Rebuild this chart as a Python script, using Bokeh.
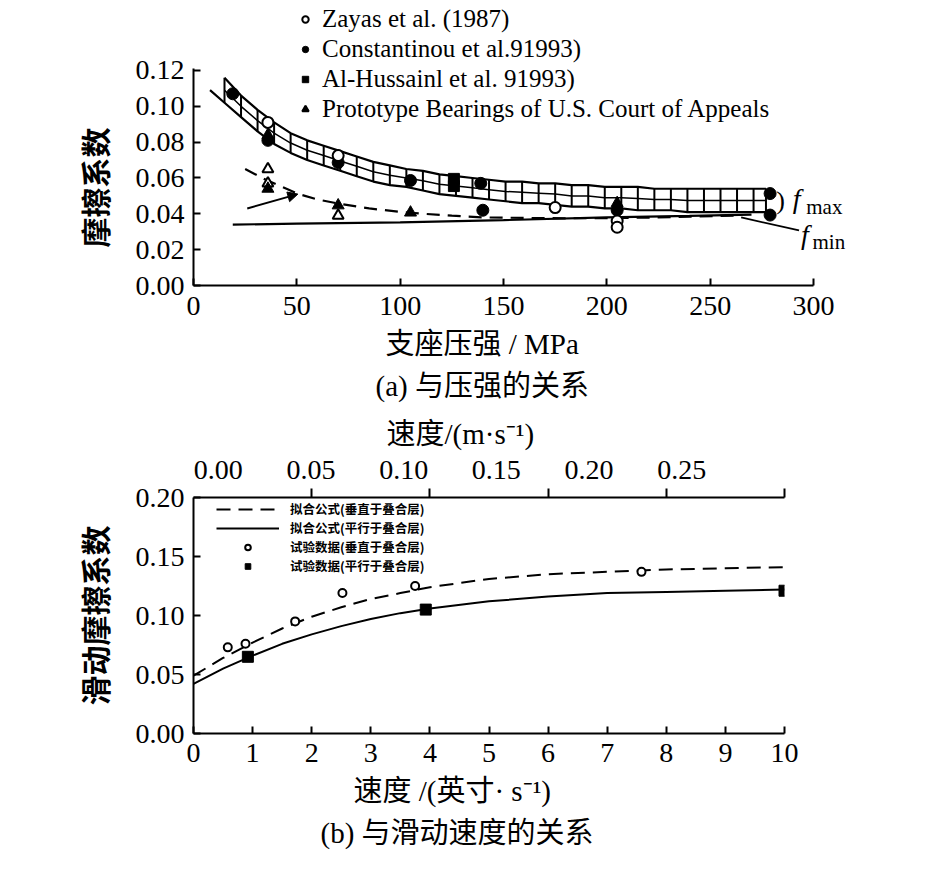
import numpy as np
from bokeh.plotting import figure
from bokeh.models import (Range1d, LinearAxis, FixedTicker, NumeralTickFormatter,
                          Legend, LegendItem, Label, Arrow, NormalHead, Title)
from bokeh.layouts import column
from bokeh.embed import file_html
from bokeh.resources import INLINE

SERIF = "Liberation Serif"
SERIF_CJK = "Liberation Serif, Noto Sans CJK SC"
CJK = "Noto Sans CJK SC"

# ------------------------------------------------------------------ (a) data
pressure_ticks = [0, 50, 100, 150, 200, 250, 300]
mu_ticks_a = [0.00, 0.02, 0.04, 0.06, 0.08, 0.10, 0.12]
pressure_axis = (0, 300)
mu_axis_a = (0, 0.121)

zayas_x = [36, 70, 175, 205, 205]
zayas_y = [0.091, 0.0725, 0.0435, 0.036, 0.0325]
const_x = [19, 36, 70, 105, 139, 140, 205, 279, 279]
const_y = [0.107, 0.081, 0.0686, 0.0586, 0.057, 0.042, 0.042, 0.0513, 0.0393]
hussain_x = [126, 126]
hussain_y = [0.0595, 0.0555]
proto_fill_x = [36, 36, 70, 105, 205]
proto_fill_y = [0.084, 0.054, 0.0447, 0.0407, 0.046]
proto_open_x = [36, 36, 70]
proto_open_y = [0.065, 0.057, 0.039]

# hatched f_max band (edges read at each cross line)
band_x = [15, 23, 31, 39, 47, 55, 63, 71, 79, 87, 95, 103, 111, 119, 127, 135, 143,
          151, 159, 167, 175, 183, 191, 199, 207, 215, 223, 231, 239, 247, 255, 263, 271, 277]
band_upper = [0.116, 0.106, 0.098, 0.091, 0.085, 0.081, 0.078, 0.075, 0.072, 0.069, 0.067,
              0.065, 0.064, 0.062, 0.061, 0.060, 0.059, 0.058, 0.058, 0.057, 0.057, 0.056,
              0.056, 0.055, 0.055, 0.055, 0.054, 0.054, 0.054, 0.054, 0.054, 0.054, 0.054, 0.054]
band_lower = [0.102, 0.094, 0.086, 0.079, 0.074, 0.070, 0.067, 0.064, 0.061, 0.058, 0.056,
              0.055, 0.053, 0.051, 0.050, 0.049, 0.048, 0.047, 0.046, 0.046, 0.045, 0.044,
              0.044, 0.043, 0.043, 0.042, 0.042, 0.042, 0.041, 0.041, 0.041, 0.041, 0.041, 0.041]
lower_lead_x = [8]
lower_lead_y = [0.109]

dash_a_x = [25, 35, 45, 51, 60, 71, 85, 105, 125, 140, 160, 180, 200, 220, 240, 262]
dash_a_y = [0.065, 0.059, 0.054, 0.051, 0.048, 0.0455, 0.043, 0.0405, 0.039, 0.038,
            0.0377, 0.0375, 0.0376, 0.0379, 0.0384, 0.039]
solid_a_x = [19, 50, 100, 150, 200, 240, 270]
solid_a_y = [0.034, 0.0345, 0.0352, 0.0365, 0.038, 0.0388, 0.0395]

arrow_x = [26, 50.5]
arrow_y = [0.043, 0.051]
fmin_ptr_x = [265, 293]
fmin_ptr_y = [0.038, 0.0307]
# annotation anchors: ")" , f(max), "max", f(min), "min"
note_x = [282, 290, 296.5, 294, 299.5]
note_y = [0.0474, 0.0486, 0.0440, 0.0286, 0.0245]

# ------------------------------------------------------------------ (b) data
speed_ticks = [0, 1, 2, 3, 4, 5, 6, 7, 8, 9, 10]
mu_ticks_b = [0.00, 0.05, 0.10, 0.15, 0.20]
ms_labels = [0.00, 0.05, 0.10, 0.15, 0.20, 0.25]
ms_tick_speed = [2, 4, 6, 8, 10]
ms_range = (-0.0134, 0.3055)

fit_x = [0, 0.5, 1, 1.5, 2, 2.5, 3, 3.5, 4, 5, 6, 7, 8, 9, 10]
perp_fit_y = [0.049, 0.064, 0.077, 0.089, 0.099, 0.107, 0.114, 0.119, 0.124,
              0.131, 0.135, 0.137, 0.139, 0.140, 0.141]
par_fit_y = [0.042, 0.055, 0.066, 0.076, 0.084, 0.091, 0.097, 0.102, 0.106,
             0.112, 0.116, 0.119, 0.120, 0.121, 0.122]
perp_test_x = [0.58, 0.88, 1.72, 2.52, 3.75, 7.58]
perp_test_y = [0.073, 0.076, 0.095, 0.119, 0.125, 0.137]
par_test_x = [0.92, 3.93, 10.0]
par_test_y = [0.065, 0.105, 0.121]


def style_axis(ax, size="28px"):
    ax.axis_line_width = 2
    ax.axis_line_color = "black"
    ax.major_tick_line_width = 2
    ax.major_tick_line_color = "black"
    ax.major_tick_in = 7
    ax.major_tick_out = 0
    ax.minor_tick_line_color = None
    ax.major_label_text_font = SERIF
    ax.major_label_text_font_size = size
    ax.major_label_text_color = "black"
    ax.axis_label_text_color = "black"
    ax.axis_label_text_font = SERIF_CJK
    ax.axis_label_text_font_style = "normal"


def side_title(text, offset, standoff, font=SERIF_CJK, size="29px", style="normal"):
    return Title(text=text, align="left", offset=offset, standoff=standoff,
                 text_font=font, text_font_style=style, text_font_size=size,
                 text_color="black")


# ================================================================== figure (a)
# frame extends past the axes (axes are bounded) so legend and f labels are not clipped
PX_X_A = 620 / 300.0
PX_Y_A = 217 / 0.1211
FW_A, FH_A = 661, 282
pa = figure(frame_width=FW_A, frame_height=FH_A,
            x_range=Range1d(0, FW_A / PX_X_A), y_range=Range1d(0, FH_A / PX_Y_A),
            output_backend="svg", toolbar_location=None,
            min_border_left=193, min_border_right=70, min_border_top=3,
            min_border_bottom=120, outline_line_color=None,
            background_fill_color="white", border_fill_color="white")
pa.grid.visible = False
style_axis(pa.xaxis[0])
style_axis(pa.yaxis[0])
pa.xaxis.bounds = pressure_axis
pa.yaxis.bounds = mu_axis_a
pa.xaxis.ticker = FixedTicker(ticks=pressure_ticks)
pa.yaxis.ticker = FixedTicker(ticks=mu_ticks_a)
pa.yaxis.formatter = NumeralTickFormatter(format="0.00")
pa.xaxis.major_label_standoff = 11
pa.yaxis.major_label_standoff = 9

# axis titles placed as side titles so they sit where the reference has them
pa.add_layout(side_title("支座压强 / MPa", 192, 16), "below")
pa.add_layout(side_title("(a) 与压强的关系", 182, 0), "below")
pa.add_layout(side_title("摩擦系数", 38, 34, font=CJK, size="30px", style="bold"), "left")

# band
pa.segment(x0=band_x, y0=band_lower, x1=band_x, y1=band_upper, line_color="black", line_width=2)
band_mid = [(u + l) / 2 for u, l in zip(band_upper, band_lower)]
pa.line(band_x, band_mid, line_color="black", line_width=1.5)
pa.line(band_x, band_upper, line_color="black", line_width=2.2)
pa.line(lower_lead_x + band_x, lower_lead_y + band_lower, line_color="black", line_width=2.2)
# fits
pa.line(solid_a_x, solid_a_y, line_color="black", line_width=2.2)
pa.line(dash_a_x, dash_a_y, line_color="black", line_width=2.2, line_dash="13 8")
pa.line(fmin_ptr_x, fmin_ptr_y, line_color="black", line_width=1.8)
pa.add_layout(Arrow(end=NormalHead(size=10, fill_color="black", line_color="black"),
                    x_start=arrow_x[0], y_start=arrow_y[0], x_end=arrow_x[1], y_end=arrow_y[1],
                    line_color="black", line_width=2))

r_const = pa.scatter(const_x, const_y, marker="circle", size=12, fill_color="black", line_color="black")
r_huss = pa.scatter(hussain_x, hussain_y, marker="square", size=11, fill_color="black", line_color="black")
r_po = pa.scatter(proto_open_x, proto_open_y, marker="triangle", size=11, fill_color="white",
                  line_color="black", line_width=2)
r_pf = pa.scatter(proto_fill_x, proto_fill_y, marker="triangle", size=12, fill_color="black", line_color="black")
r_zay = pa.scatter(zayas_x, zayas_y, marker="circle", size=11, fill_color="white",
                   line_color="black", line_width=2)

leg_a = Legend(items=[
    LegendItem(label="Zayas et al. (1987)", renderers=[r_zay]),
    LegendItem(label="Constantinou et al.91993)", renderers=[r_const]),
    LegendItem(label="Al-Hussainl et al. 91993)", renderers=[r_huss]),
    LegendItem(label="Prototype Bearings of U.S. Court of Appeals", renderers=[r_po, r_pf]),
], location=(104, 161), padding=0, spacing=0, margin=0, label_height=30,
    glyph_width=16, glyph_height=16, label_standoff=9,
    label_text_font=SERIF, label_text_font_size="25px", label_text_color="black",
    border_line_color=None, background_fill_alpha=0)
pa.add_layout(leg_a)

notes = [(")", SERIF, "normal", "26px"), ("f", SERIF, "italic", "28px"), ("max", SERIF, "normal", "21px"),
         ("f", SERIF, "italic", "28px"), ("min", SERIF, "normal", "21px")]
for (txt, fnt, sty, sz), nx, ny in zip(notes, note_x, note_y):
    pa.add_layout(Label(x=nx, y=ny, text=txt, text_font=fnt, text_font_style=sty,
                        text_font_size=sz, text_color="black", text_baseline="middle"))

# ================================================================== figure (b)
pb = figure(frame_width=591, frame_height=236,
            x_range=Range1d(0, 10), y_range=Range1d(0, 0.2),
            output_backend="svg", toolbar_location=None,
            min_border_left=192, min_border_right=150, min_border_top=92,
            min_border_bottom=125, outline_line_color=None,
            background_fill_color="white", border_fill_color="white")
pb.grid.visible = False
style_axis(pb.xaxis[0])
style_axis(pb.yaxis[0])
pb.xaxis.ticker = FixedTicker(ticks=speed_ticks)
pb.yaxis.ticker = FixedTicker(ticks=mu_ticks_b)
pb.yaxis.formatter = NumeralTickFormatter(format="0.00")
pb.xaxis.major_label_standoff = 10
pb.yaxis.major_label_standoff = 9
pb.yaxis.axis_label = "滑动摩擦系数"
pb.yaxis.axis_label_text_font = CJK
pb.yaxis.axis_label_text_font_style = "bold"
pb.yaxis.axis_label_text_font_size = "30px"
pb.yaxis.axis_label_standoff = 17

pb.extra_x_ranges = {"ms": Range1d(*ms_range)}
span = ms_range[1] - ms_range[0]
ms_minor = [ms_range[0] + s / 10 * span - 1e-9 for s in ms_tick_speed]
top_ax = LinearAxis(x_range_name="ms",
                    ticker=FixedTicker(ticks=ms_labels, minor_ticks=ms_minor),
                    formatter=NumeralTickFormatter(format="0.00"))
style_axis(top_ax)
top_ax.major_tick_in = 0
top_ax.major_tick_out = 0
top_ax.minor_tick_line_color = "black"
top_ax.minor_tick_line_width = 2
top_ax.minor_tick_in = 0
top_ax.minor_tick_out = 9
top_ax.major_label_standoff = 10
pb.add_layout(top_ax, "above")
pb.add_layout(side_title("速度/(m·s⁻¹)", 193, 16), "above")

pb.add_layout(side_title("速度 /(英寸· s⁻¹)", 160, 16), "below")
pb.add_layout(side_title("(b) 与滑动速度的关系", 127, 0), "below")

r_perp = pb.line(fit_x, perp_fit_y, line_color="black", line_width=2, line_dash="14 8")
r_par = pb.line(fit_x, par_fit_y, line_color="black", line_width=2)
r_pt = pb.scatter(perp_test_x, perp_test_y, marker="circle", size=8, fill_color="white",
                  line_color="black", line_width=2)
r_st = pb.scatter(par_test_x, par_test_y, marker="square", size=11, fill_color="black",
                  line_color="black")

leg_b = Legend(items=[
    LegendItem(label="拟合公式(垂直于叠合层)", renderers=[r_perp]),
    LegendItem(label="拟合公式(平行于叠合层)", renderers=[r_par]),
    LegendItem(label="试验数据(垂直于叠合层)", renderers=[r_pt]),
    LegendItem(label="试验数据(平行于叠合层)", renderers=[r_st]),
], location=(23, 158), padding=0, spacing=0, margin=0, label_height=17,
    glyph_width=63, glyph_height=14, label_standoff=11,
    label_text_font=CJK, label_text_font_style="bold", label_text_font_size="12.5px",
    label_text_color="black", border_line_color=None, background_fill_alpha=0)
pb.add_layout(leg_b)

page = column(pa, pb, spacing=0)
open("out.html", "w").write(file_html(page, INLINE))
